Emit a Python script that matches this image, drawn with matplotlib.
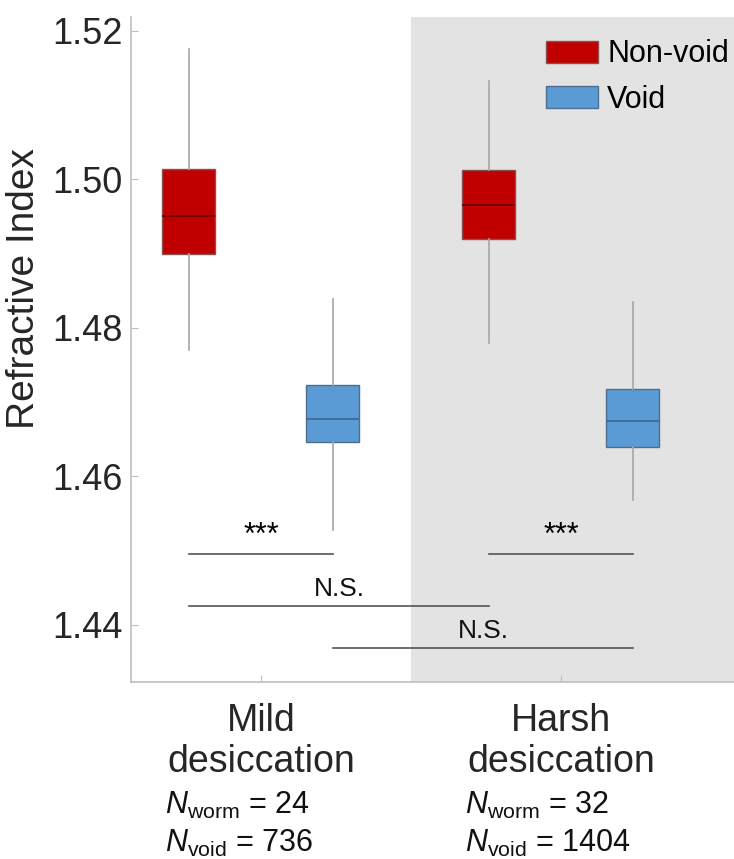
import numpy as np
import matplotlib
matplotlib.use("Agg")
import matplotlib.pyplot as plt
from matplotlib.patches import Patch

plt.rcParams['font.family'] = ['Liberation Sans', 'DejaVu Sans']
plt.rcParams['mathtext.fontset'] = 'custom'
plt.rcParams['mathtext.rm'] = 'Liberation Sans'
plt.rcParams['mathtext.it'] = 'Liberation Sans:italic'

# box statistics
groups = ["Mild\ndesiccation", "Harsh\ndesiccation"]
series = ["Non-void", "Void"]
whislo = [[1.4770, 1.4528], [1.4779, 1.4568]]
q1 = [[1.4899, 1.4646], [1.4919, 1.4639]]
med = [[1.4951, 1.4677], [1.4965, 1.4674]]
q3 = [[1.5013, 1.4723], [1.5012, 1.4717]]
whishi = [[1.5175, 1.4838], [1.5132, 1.4834]]
n_worm = [24, 32]
n_void = [736, 1404]

# significance brackets: y level and label
sig_y = [1.4495, 1.4495, 1.4425, 1.4369]
sig_label = ["***", "***", "N.S.", "N.S."]

face = ["#C00000", "#5B9BD5"]
edge = ["#8A5050", "#4F6E8E"]
medc = ["#6A0000", "#3E6690"]
offset = 0.24
width = 0.177

fig = plt.figure(figsize=(7.34, 8.59), dpi=100)
ax = fig.add_axes([0.1785, 0.206, 0.8215, 0.774])

ax.axvspan(1.5, 3.0, color="#E3E3E3", zorder=0, lw=0)

pos = {}
for g in range(2):
    for s in range(2):
        x = g + 1 + (offset if s else -offset)
        pos[(g, s)] = x
        st = [dict(whislo=whislo[g][s], q1=q1[g][s], med=med[g][s],
                   q3=q3[g][s], whishi=whishi[g][s], fliers=[])]
        ax.bxp(st, positions=[x], widths=width, showcaps=False,
               showfliers=False, patch_artist=True, manage_ticks=False,
               boxprops=dict(facecolor=face[s], edgecolor=edge[s], lw=1.0),
               whiskerprops=dict(color="#A6A6A6", lw=1.2),
               medianprops=dict(color=medc[s], lw=1.2))

pairs = [((0, 0), (0, 1)), ((1, 0), (1, 1)), ((0, 0), (1, 0)), ((0, 1), (1, 1))]
for (a, b), y, lab in zip(pairs, sig_y, sig_label):
    xa, xb = pos[a], pos[b]
    ax.plot([xa, xb], [y, y], color="#555555", lw=1.2)
    if lab == "***":
        ax.text((xa + xb) / 2, y + 0.0005, lab, ha="center", va="bottom",
                fontsize=22, color="black")
    else:
        ax.text((xa + xb) / 2, y + 0.0007, lab, ha="center", va="bottom",
                fontsize=19, color="#111111")

ax.set_xlim(0.567, 2.577)
ax.set_ylim(1.4323, 1.5218)
ax.set_yticks([1.44, 1.46, 1.48, 1.50, 1.52])
ax.set_yticklabels(["1.44", "1.46", "1.48", "1.50", "1.52"])
ax.set_xticks([1, 2])
ax.set_xticklabels(groups, fontsize=27, linespacing=1.2, color="#262626")
ax.tick_params(axis="both", direction="in", length=5, color="#BFBFBF",
               labelcolor="#262626")
ax.tick_params(axis="y", labelsize=26, pad=6)
ax.tick_params(axis="x", pad=15)
ax.set_ylabel("Refractive Index", fontsize=28, color="#262626")
ax.yaxis.set_label_coords(-0.148, 0.592)

for side in ["top", "right"]:
    ax.spines[side].set_visible(False)
for side in ["left", "bottom"]:
    ax.spines[side].set_color("#BFBFBF")
    ax.spines[side].set_linewidth(1.2)

for g in range(2):
    ax.annotate(r"$N_{\mathrm{worm}}$ = %d" % n_worm[g], xy=(g + 1 - 0.32, 0),
                xycoords=("data", "axes fraction"), xytext=(0, -89),
                textcoords="offset points", ha="left", va="center",
                fontsize=22, color="#111111")
    ax.annotate(r"$N_{\mathrm{void}}$ = %d" % n_void[g], xy=(g + 1 - 0.32, 0),
                xycoords=("data", "axes fraction"), xytext=(0, -116),
                textcoords="offset points", ha="left", va="center",
                fontsize=22, color="#111111")

handles = [Patch(facecolor=face[i], edgecolor=edge[i], label=series[i]) for i in range(2)]
ax.legend(handles=handles, loc="upper right", bbox_to_anchor=(1.012, 0.985),
          frameon=False, fontsize=22, handlelength=1.7, handleheight=0.75,
          handletextpad=0.3, labelspacing=0.5, borderaxespad=0.0)

fig.savefig("out.png", dpi=100)
